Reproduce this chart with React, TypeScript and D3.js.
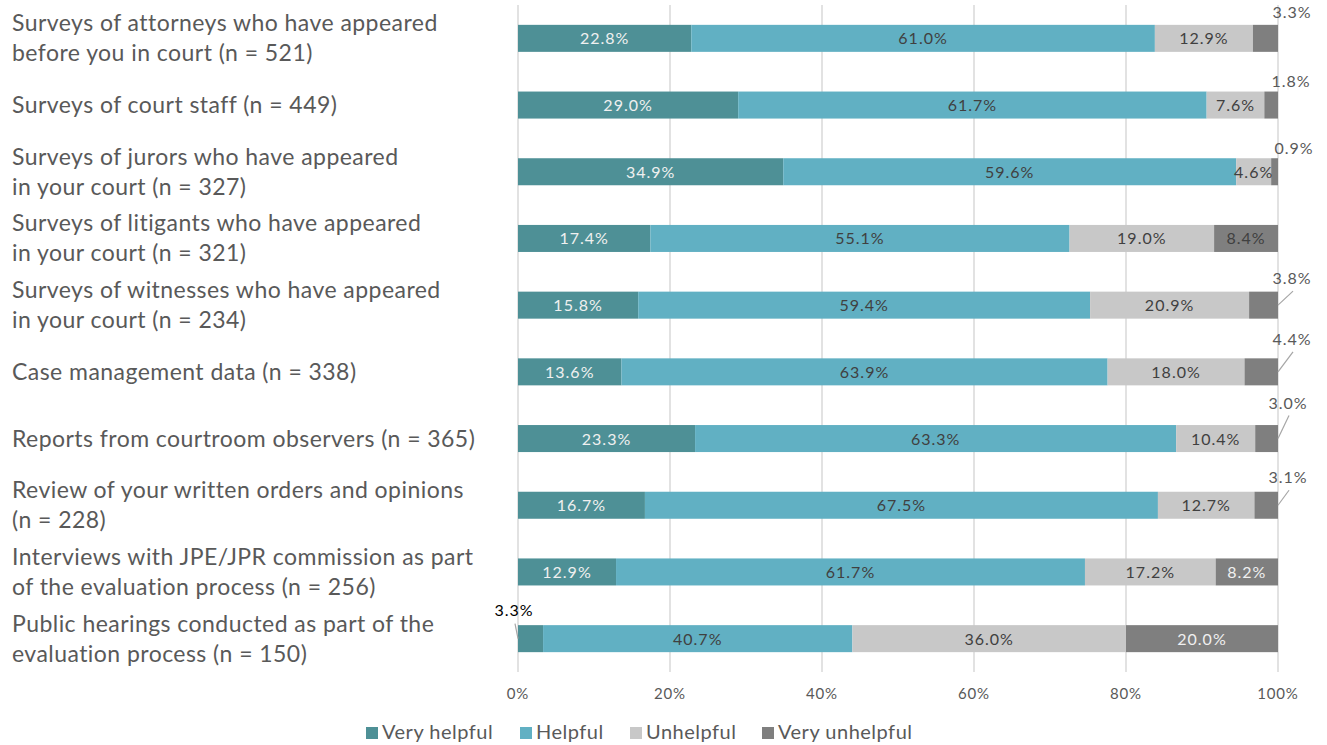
import React from "react";
import * as d3 from "d3";

const categories: string[][] = [
  ["Surveys of attorneys who have appeared", "before you in court (n = 521)"],
  ["Surveys of court staff (n = 449)"],
  ["Surveys of jurors who have appeared", "in your court (n = 327)"],
  ["Surveys of litigants who have appeared", "in your court (n = 321)"],
  ["Surveys of witnesses who have appeared", "in your court (n = 234)"],
  ["Case management data (n = 338)"],
  ["Reports from courtroom observers (n = 365)"],
  ["Review of your written orders and opinions", "(n = 228)"],
  ["Interviews with JPE/JPR commission as part", "of the evaluation process (n = 256)"],
  ["Public hearings conducted as part of the", "evaluation process (n = 150)"],
];

const seriesNames = ["Very helpful", "Helpful", "Unhelpful", "Very unhelpful"];
const veryHelpful = [22.8, 29.0, 34.9, 17.4, 15.8, 13.6, 23.3, 16.7, 12.9, 3.3];
const helpful = [61.0, 61.7, 59.6, 55.1, 59.4, 63.9, 63.3, 67.5, 61.7, 40.7];
const unhelpful = [12.9, 7.6, 4.6, 19.0, 20.9, 18.0, 10.4, 12.7, 17.2, 36.0];
const veryUnhelpful = [3.3, 1.8, 0.9, 8.4, 3.8, 4.4, 3.0, 3.1, 8.2, 20.0];
const xTicks = [0, 20, 40, 60, 80, 100];

// styling
const colors = ["#4E9096", "#61B0C3", "#C8C8C8", "#7F7F7F"];
const textColors = ["#F0F0F0", "#404040", "#404040", "#F0F0F0"];
const FONT = "Lato, 'Open Sans', sans-serif";

type Ext = { row: number; s: number; dx: number; dy: number; line: boolean; color?: string };
const externalLabels: Ext[] = [
  { row: 0, s: 3, dx: 14, dy: -20, line: false },
  { row: 1, s: 3, dx: 13, dy: -18, line: false },
  { row: 2, s: 3, dx: 16, dy: -18, line: false },
  { row: 4, s: 3, dx: 14, dy: -21, line: true },
  { row: 5, s: 3, dx: 14, dy: -27, line: true },
  { row: 6, s: 3, dx: 10, dy: -30, line: true },
  { row: 7, s: 3, dx: 10, dy: -22, line: true },
  { row: 9, s: 0, dx: -4, dy: -23, line: true, color: "#000000" },
];

export default function App() {
  const W = 1327, H = 745;
  const x = d3.scaleLinear().domain([0, 100]).range([518, 1278]);
  const y = d3.scaleBand<number>().domain(d3.range(categories.length)).range([5, 672]).paddingInner(0.595).paddingOuter(0.2975);

  const rows = categories.map((_, i) => {
    const vals = [veryHelpful[i], helpful[i], unhelpful[i], veryUnhelpful[i]];
    const tot = d3.sum(vals);
    return vals.map((v) => (v / tot) * 100);
  });
  const raw = categories.map((_, i) => [veryHelpful[i], helpful[i], unhelpful[i], veryUnhelpful[i]]);
  const stack = d3.stack<number[]>().keys([0, 1, 2, 3] as any).value((d, k: any) => d[k]);
  const stacked = stack(rows);

  const isExternal = (r: number, s: number) => externalLabels.some((e) => e.row === r && e.s === s);
  const bw = y.bandwidth();

  const legendX = [366, 520, 630, 762];

  return (
    <div style={{ position: "absolute", left: 0, top: 0 }}>
      <svg width={W} height={H} style={{ display: "block", background: "#fff" }}>
        {xTicks.map((t) => (
          <line key={t} x1={x(t)} x2={x(t)} y1={5} y2={672} stroke="#D9D9D9" strokeWidth={1.5} />
        ))}
        {stacked.map((layer, s) => (
          <g key={s}>
            {layer.map((d, r) => (
              <rect key={r} x={x(d[0])} y={y(r)!} width={x(d[1]) - x(d[0])} height={bw} fill={colors[s]} />
            ))}
          </g>
        ))}
        {stacked.map((layer, s) =>
          layer.map((d, r) =>
            isExternal(r, s) ? null : (
              <text key={`${s}-${r}`} x={(x(d[0]) + x(d[1])) / 2} y={y(r)! + bw / 2 + 6} textAnchor="middle"
                fontFamily={FONT} fontSize={16} fill={r === 3 && s === 3 ? "#404040" : textColors[s]} letterSpacing={1}>
                {raw[r][s].toFixed(1)}%
              </text>
            )
          )
        )}
        {externalLabels.map((e, k) => {
          const seg = stacked[e.s][e.row];
          const endX = e.s === 3 ? x(seg[1]) : x(seg[0]);
          const cy = y(e.row)! + bw / 2;
          const lx = endX + e.dx;
          const ly = cy + e.dy;
          return (
            <g key={k}>
              {e.line && (e.s === 3 ? (
                <line x1={endX} y1={cy} x2={lx + 1} y2={ly + 7} stroke="#A6A6A6" strokeWidth={1.2} />
              ) : (
                <line x1={lx + 1} y1={ly + 8} x2={endX} y2={cy} stroke="#A6A6A6" strokeWidth={1.2} />
              ))}
              <text x={lx} y={ly} textAnchor="middle" fontFamily={FONT} fontSize={16} fill={e.color || "#595959"} letterSpacing={1}>
                {raw[e.row][e.s].toFixed(1)}%
              </text>
            </g>
          );
        })}
        {categories.map((lines, i) => {
          const cy = y(i)! + bw / 2;
          const lh = 30;
          const top = cy - ((lines.length - 1) * lh) / 2;
          return (
            <text key={i} x={12} fontFamily={FONT} fontSize={23} fill="#595959" letterSpacing={0.45}>
              {lines.map((l, j) => (
                <tspan key={j} x={12} y={top + j * lh + 8}>{l}</tspan>
              ))}
            </text>
          );
        })}
        {xTicks.map((t) => (
          <text key={t} x={x(t)} y={699} textAnchor="middle" fontFamily={FONT} fontSize={15} fill="#595959" letterSpacing={0.8}>
            {t}%
          </text>
        ))}
        {seriesNames.map((n, i) => (
          <g key={n}>
            <rect x={legendX[i]} y={727} width={12} height={12} fill={colors[i]} />
            <text x={legendX[i] + 16} y={739} fontFamily={FONT} fontSize={20} fill="#595959" letterSpacing={0.5}>{n}</text>
          </g>
        ))}
      </svg>
    </div>
  );
}
